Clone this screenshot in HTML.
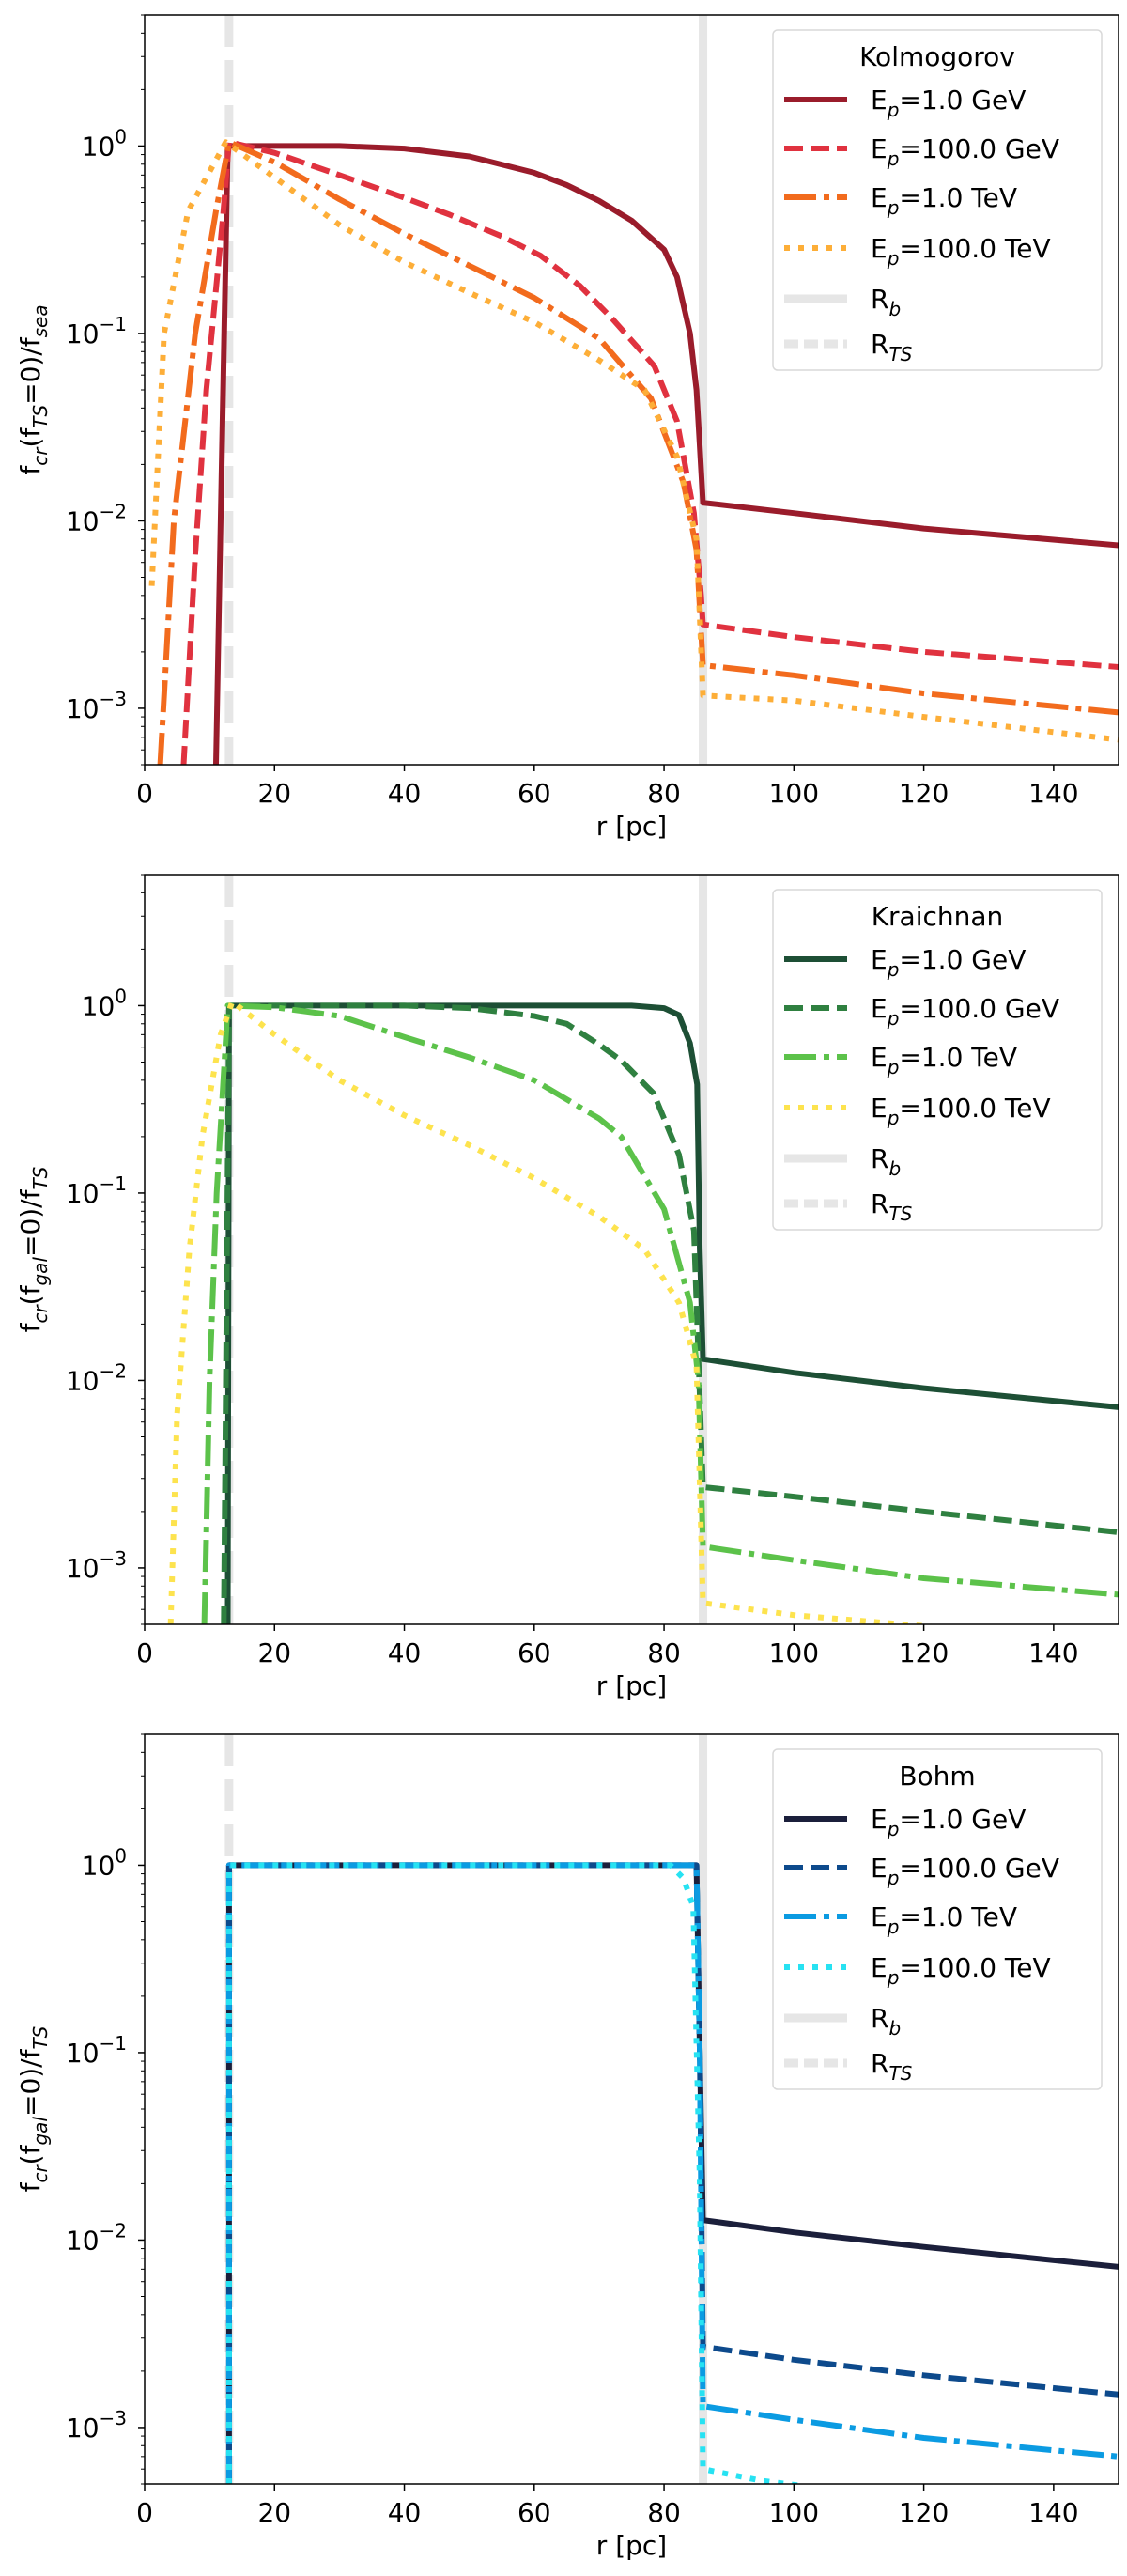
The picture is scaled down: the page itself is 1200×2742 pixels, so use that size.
<!DOCTYPE html>
<html><head><meta charset="utf-8"><style>
html,body{margin:0;padding:0;background:#fff;}
svg{display:block;font-family:"DejaVu Sans","Liberation Sans",sans-serif;}
</style></head><body>
<svg id="fig" width="1200" height="2742" viewBox="0 0 1200 2742" xmlns="http://www.w3.org/2000/svg"></svg>
<script>
// ---- data ----
const xTicks = [0,20,40,60,80,100,120,140];
const yTickExps = [0,-1,-2,-3];
const legendLabels = ["1.0 GeV","100.0 GeV","1.0 TeV","100.0 TeV"];
const panelTitles = ["Kolmogorov","Kraichnan","Bohm"];
const rTS = 13, rB = 86;

const kol1r=[11,12.8,20,30,40,50,60,65,70,75,80,82,84,85,85.5,86,100,120,150];
const kol1v=[5e-4,1,1,1,0.97,0.88,0.72,0.62,0.51,0.4,0.28,0.2,0.1,0.05,0.025,0.0125,0.011,0.0091,0.0074];
const kol2r=[6,7.8,9.5,12,13,20,30,40,47,55,61,67,72,78.5,82,84.6,85.7,86,100,120,150];
const kol2v=[5e-4,0.0066,0.05,0.4,1.05,0.92,0.7,0.53,0.43,0.33,0.26,0.18,0.12,0.067,0.034,0.011,0.004,0.0028,0.0024,0.002,0.00166];
const kol3r=[2.4,4.5,7.8,11,13,20,30,40,50,60,70,78,83,85,86,100,120,150];
const kol3v=[5e-4,0.01,0.1,0.45,1.05,0.82,0.52,0.34,0.23,0.155,0.094,0.045,0.016,0.007,0.0017,0.0015,0.0012,0.00095];
const kol4r=[1.1,3,6.7,12.5,20,30,40,50,60,70,77,82,85,86,100,120,150];
const kol4v=[0.0045,0.1,0.45,1.05,0.68,0.38,0.24,0.165,0.115,0.072,0.05,0.022,0.008,0.00117,0.0011,0.0009,0.00068];

const kra1r=[12.8,13,75,80,82.3,84,85.1,85.5,86,100,120,150];
const kra1v=[5e-4,1,1,0.97,0.89,0.63,0.38,0.05,0.013,0.011,0.0091,0.0072];
const kra2r=[12.2,13,40,50,60,65,70,73.4,78.4,82.3,84.6,85.3,86,100,120,150];
const kra2v=[5e-4,1,1,0.97,0.88,0.8,0.62,0.51,0.34,0.16,0.063,0.013,0.0027,0.0024,0.002,0.00155];
const kra3r=[9.2,10,11.1,12.8,20,30,40,50,60,70,73.4,80,84,85.3,86,100,120,150];
const kra3v=[5e-4,0.01,0.1,1,0.98,0.88,0.68,0.53,0.4,0.25,0.2,0.082,0.026,0.01,0.0013,0.0011,0.00088,0.00072];
const kra4r=[4,5,6.9,8.9,11.7,13.5,16,20,30,40,50,60,70,77,82.3,85,86,100,117,150];
const kra4v=[5e-4,0.0066,0.05,0.2,0.7,1.05,0.9,0.7,0.4,0.26,0.18,0.12,0.075,0.05,0.026,0.012,0.00065,0.00056,0.0005,0.0004];

const boh1r=[13,13,85,85.5,86,100,120,150];
const boh1v=[5e-4,1,1,0.1,0.0128,0.011,0.0092,0.0072];
const boh2r=[13,13,85,85.5,86,100,120,150];
const boh2v=[5e-4,1,1,0.1,0.0027,0.0023,0.0019,0.0015];
const boh3r=[13,13,85,85.5,86,100,120,150];
const boh3v=[5e-4,1,1,0.1,0.0013,0.0011,0.00088,0.0007];
const boh4r=[13,13,81,83,84.5,85.5,86,95,103,150];
const boh4v=[5e-4,1,1,0.85,0.6,0.02,0.0006,0.00052,0.00048,0.0003];

const panels=[
 {title:"Kolmogorov",top:16,ylab:['f','cr','(f','TS','=0)/f','sea'],
  series:[[kol1r,kol1v],[kol2r,kol2v],[kol3r,kol3v],[kol4r,kol4v]],
  colors:["#9a1c2b","#e0323f","#f26b1d","#fdae38"]},
 {title:"Kraichnan",top:931,ylab:['f','cr','(f','gal','=0)/f','TS'],
  series:[[kra1r,kra1v],[kra2r,kra2v],[kra3r,kra3v],[kra4r,kra4v]],
  colors:["#1d4f35","#2f8040","#5cc24a","#fde34e"]},
 {title:"Bohm",top:1846,ylab:['f','cr','(f','gal','=0)/f','TS'],
  series:[[boh1r,boh1v],[boh2r,boh2v],[boh3r,boh3v],[boh4r,boh4v]],
  colors:["#1b1f3b","#0d4a8c","#0b9be2","#27e2f2"]}
];
const dashes=["none","20,8","34,8,6,8","6,9"];

const NS="http://www.w3.org/2000/svg";
const svg=document.getElementById('fig');
function mk(tag,attrs,parent){const e=document.createElementNS(NS,tag);for(const k in attrs)e.setAttribute(k,attrs[k]);(parent||svg).appendChild(e);return e;}
const L=154,R=1191,H=798,ymin=Math.log10(5e-4),ymax=Math.log10(5);
function xs(r){return L+(r-0)/(150-0)*(R-L);}

panels.forEach((p,pi)=>{
  const T=p.top,B=T+H;
  const ys=v=>T+(ymax-Math.log10(v))/(ymax-ymin)*H;
  const g=mk('g',{});
  
  
  const cid='clip'+pi;
  const cp=mk('clipPath',{id:cid},g);mk('rect',{x:L,y:T,width:R-L,height:H},cp);
  const plot=mk('g',{'clip-path':'url(#'+cid+')'},g);
  const rts=mk('line',{x1:xs(rTS),x2:xs(rTS),y1:T,y2:B,stroke:'#e6e6e6','stroke-width':9,'stroke-dasharray':'34,14'},plot);
  
  const rb=mk('line',{x1:xs(rB),x2:xs(rB),y1:T,y2:B,stroke:'#e6e6e6','stroke-width':9},plot);
  
  p.series.forEach((s,si)=>{
    const d=s[0].map((r,i)=>(i?'L':'M')+xs(r).toFixed(1)+','+ys(s[1][i]).toFixed(1)).join(' ');
    const path=mk('path',{d:d,fill:'none',stroke:p.colors[si],'stroke-width':6,'stroke-dasharray':dashes[si],'stroke-linejoin':'round'},plot);
    
    
  });
  mk('rect',{x:L,y:T,width:R-L,height:H,fill:'none',stroke:'#000','stroke-width':1.5},g);
  xTicks.forEach(t=>{
    mk('line',{x1:xs(t),x2:xs(t),y1:B,y2:B+7,stroke:'#000','stroke-width':1.5},g);
    const tx=mk('text',{x:xs(t),y:B+40,'font-size':28,'text-anchor':'middle'},g);tx.textContent=t;
    
  });
  const xl=mk('text',{x:(L+R)/2,y:B+75,'font-size':28,'text-anchor':'middle'},g);xl.textContent='r [pc]';
  
  for(let e=-4;e<=0;e++){for(let m=1;m<=9;m++){const v=m*Math.pow(10,e);if(v<5e-4||v>5)continue;
    const y=ys(v);mk('line',{x1:L-(m==1?7:4),x2:L,y1:y,y2:y,stroke:'#000','stroke-width':m==1?1.5:1},g);}}
  yTickExps.forEach(e=>{
    const y=ys(Math.pow(10,e));
    const t=mk('text',{x:135,y:y+10,'font-size':28,'text-anchor':'end'},g);
    
    const a=mk('tspan',{},t);a.textContent='10';
    const b=mk('tspan',{dy:-13,'font-size':20},t);b.textContent=e===0?'0':'\u2212'+(-e);
  });
  const yl=mk('text',{x:0,y:0,'font-size':28,'text-anchor':'middle',transform:'translate(42,'+(T+H/2)+') rotate(-90)'},g);
  
  p.ylab.forEach((s,i)=>{const ts=mk('tspan',i%2?{'font-size':20,dy:8,'font-style':'italic'}:{'font-size':28,dy:i?-8:0},yl);ts.textContent=s;});
  const lg=mk('g',{},g);
  mk('rect',{x:823,y:T+16,width:350,height:362,rx:5,fill:'#fff','fill-opacity':0.8,stroke:'#d9d9d9','stroke-width':1.5},lg);
  const tt=mk('text',{x:998,y:T+54,'font-size':28,'text-anchor':'middle'},lg);tt.textContent=p.title;
  
  const rowsY=[90,142,194,248,302,350];
  legendLabels.forEach((lab,i)=>{
    const y=T+rowsY[i];
    mk('line',{x1:835,x2:902,y1:y,y2:y,stroke:p.colors[i],'stroke-width':6,'stroke-dasharray':dashes[i]},lg);
    const t=mk('text',{x:927,y:y+10,'font-size':28},lg);
    
    const a=mk('tspan',{},t);a.textContent='E';
    const b=mk('tspan',{dy:8,'font-size':20,'font-style':'italic'},t);b.textContent='p';
    const c=mk('tspan',{dy:-8},t);c.textContent='='+lab;
  });
  [[4,'b','none'],[5,'TS','15,6']].forEach(([i,sub,da])=>{
    const y=T+rowsY[i];
    mk('line',{x1:835,x2:902,y1:y,y2:y,stroke:'#e6e6e6','stroke-width':9,'stroke-dasharray':da},lg);
    const t=mk('text',{x:927,y:y+10,'font-size':28},lg);
    
    const a=mk('tspan',{},t);a.textContent='R';
    const b=mk('tspan',{dy:8,'font-size':20,'font-style':'italic'},t);b.textContent=sub;
  });
});
</script>
</body></html>
